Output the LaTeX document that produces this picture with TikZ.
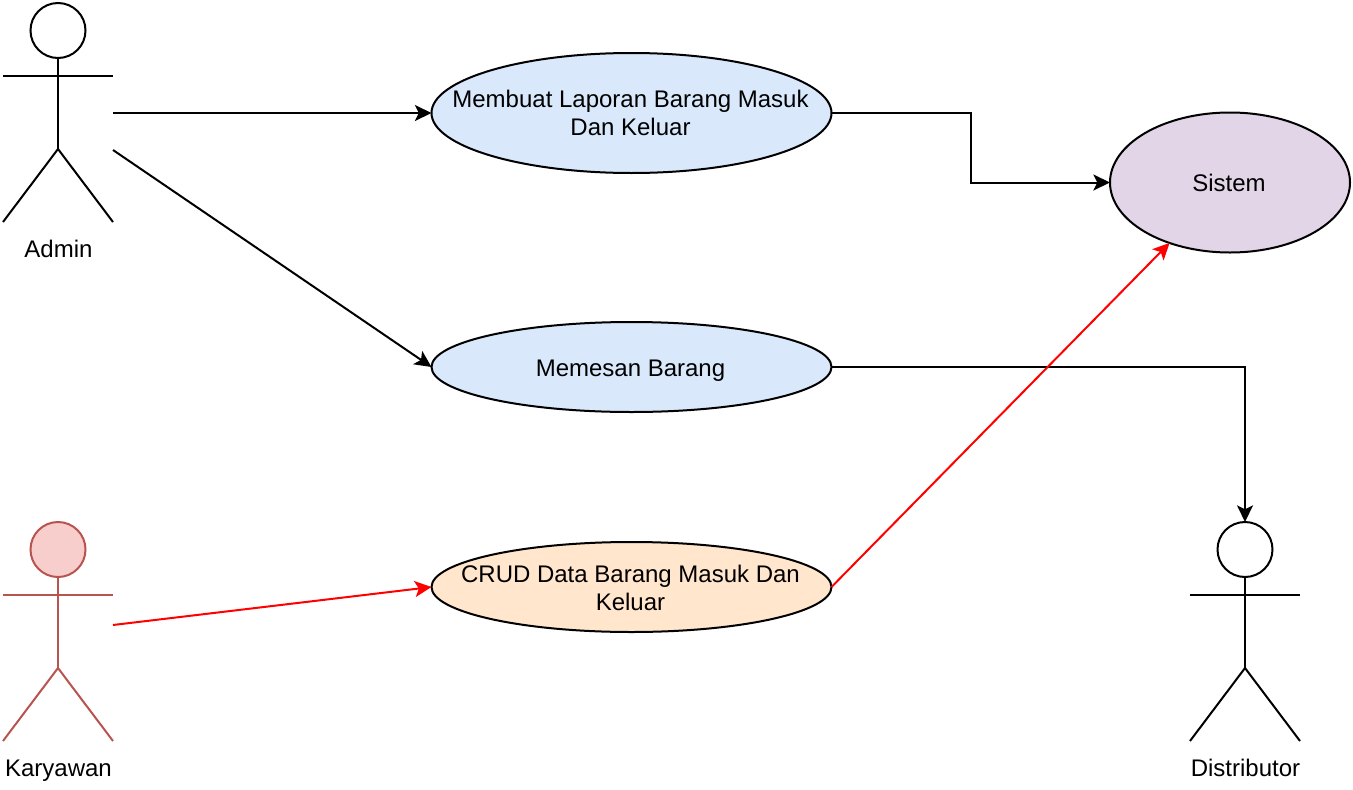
\documentclass[tikz,border=0pt]{standalone}
\usepackage{fontspec}
\setmainfont{Liberation Sans}
\usetikzlibrary{shapes.geometric,arrows.meta}
\definecolor{blueF}{HTML}{DAE8FC}
\definecolor{orangeF}{HTML}{FFE6CC}
\definecolor{purpleF}{HTML}{E1D5E7}
\definecolor{redF}{HTML}{F8CECC}
\definecolor{redS}{HTML}{B85450}
\tikzset{
 x=0.75pt,y=-0.75pt,
 uc/.style={ellipse,draw=black,line width=1.5pt,inner sep=0pt,outer sep=0pt},
 uctext/.style={align=center,inner sep=0pt,font=\fontsize{18}{21}\selectfont},
 lbl/.style={font=\fontsize{18}{21}\selectfont,inner sep=0pt,anchor=base},
 conn/.style={line width=1.5pt,-{Stealth[length=12.5pt,width=12pt,inset=3pt]}},
 limb/.style={line width=1.5pt},
}
\newcommand{\actor}[4]{% x, y(top), color, fill
 \draw[limb,draw=#3,fill=#4] (#1,#2+27.5) circle[radius=27.5*0.75pt];
 \draw[limb,draw=#3] (#1,#2+55) -- (#1,#2+146);
 \draw[limb,draw=#3] (#1-55,#2+73) -- (#1+55,#2+73);
 \draw[limb,draw=#3] (#1-55,#2+219) -- (#1,#2+146) -- (#1+55,#2+219);
}
\begin{document}
\begin{tikzpicture}
\useasboundingbox (0,0) rectangle (1353,789);
\actor{58}{3}{black}{white}
\actor{58}{522}{redS}{redF}
\actor{1245}{522}{black}{white}
\coordinate (adminA) at (113,113);
\coordinate (adminB) at (113,150);
\coordinate (kary) at (113,625);
\coordinate (dist) at (1245,522);
\node[lbl] (tadmin) at (58.5,257) {Admin};
\node[lbl] (tkary) at (58.5,776) {Karyawan};
\node[lbl] (tdist) at (1245.5,776) {Distributor};
\node[uc,fill=blueF,minimum width=300pt,minimum height=90pt] (u1) at (631.5,113) {};
\node[uc,fill=blueF,minimum width=300pt,minimum height=67.5pt] (u2) at (631.5,367) {};
\node[uc,fill=orangeF,minimum width=300pt,minimum height=67.5pt] (u3) at (631.5,587) {};
\node[uc,fill=purpleF,minimum width=180pt,minimum height=105pt] (s) at (1230,182.5) {};
\node[uctext] (t1) at (630.5,113) {Membuat Laporan Barang Masuk\\Dan Keluar};
\node[uctext,anchor=base] (t2) at (630.5,376.5) {Memesan Barang};
\node[uctext] (t3) at (630.5,588) {CRUD Data Barang Masuk Dan\\Keluar};
\node[uctext,anchor=base] (t4) at (1229,191) {Sistem};
\draw[conn] (adminA) -- (u1.west);
\draw[conn] (adminB) -- (u2.west);
\draw[conn,red] (kary) -- (u3.west);
\draw[conn] (u1.east) -- (971,113) -- (971,182.5) -- (s.west);
\draw[conn] (u2.east) -- (1245,367) -- (dist);
\draw[conn,red] (u3.east) -- (s.225);
\end{tikzpicture}
\end{document}
